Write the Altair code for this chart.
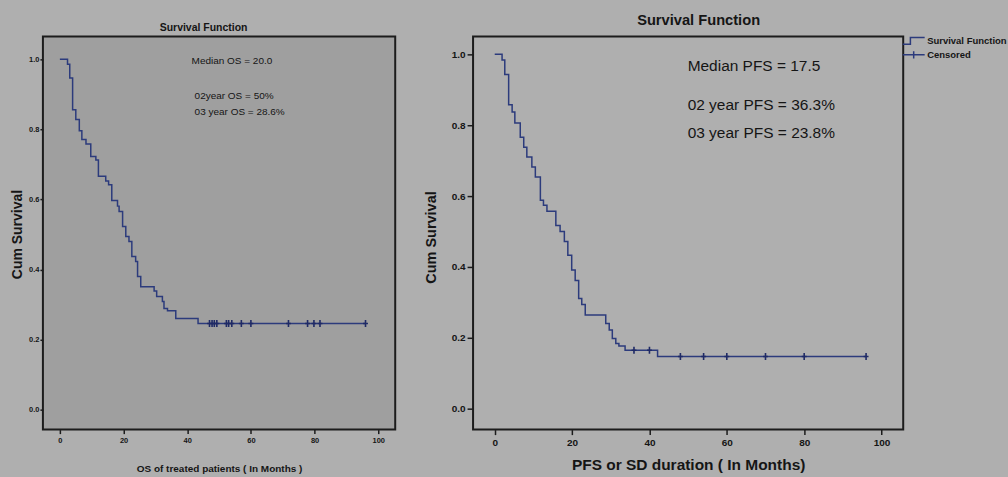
import altair as alt
import numpy as np
import pandas as pd

# ---------------- data ----------------
os_time = [0, 2.4, 3.1, 4.0, 5.0, 6.1, 6.9, 8.2, 9.7, 11.3, 12.1, 14.4, 15.3, 16.3, 18.1, 18.6,
           19.7, 20.7, 21.7, 22.6, 23.8, 24.4, 25.4, 29.6, 30.4, 32.2, 32.7, 33.8, 36.4, 43.4, 96.0]
os_surv = [1.0, 0.986, 0.947, 0.856, 0.828, 0.796, 0.771, 0.758, 0.723, 0.713, 0.666, 0.653, 0.642,
           0.597, 0.581, 0.566, 0.523, 0.494, 0.48, 0.437, 0.423, 0.38, 0.351, 0.339, 0.323, 0.309,
           0.289, 0.282, 0.26, 0.246, 0.246]
os_censored = [47.0, 47.8, 48.5, 49.3, 52.3, 53.0, 54.0, 57.0, 60.0, 71.8, 77.8, 79.8, 81.7, 96.0]

pfs_time = [0, 1.9, 2.6, 3.6, 4.5, 5.2, 6.6, 7.5, 8.3, 9.6, 10.5, 11.8, 12.6, 13.5, 15.8, 16.9,
            18.0, 18.9, 19.9, 20.8, 21.7, 22.5, 23.4, 28.7, 29.6, 30.4, 31.3, 32.1, 33.7, 42.1, 96.0]
pfs_surv = [1.0, 0.984, 0.943, 0.858, 0.837, 0.806, 0.766, 0.738, 0.710, 0.682, 0.654, 0.588, 0.574,
            0.557, 0.517, 0.50, 0.472, 0.433, 0.391, 0.362, 0.311, 0.294, 0.264, 0.240, 0.222, 0.198,
            0.184, 0.177, 0.165, 0.147, 0.147]
pfs_censored = [36.0, 40.0, 48.0, 54.0, 60.0, 70.0, 80.0, 96.0]

os_notes = ["Median OS = 20.0", "02year OS = 50%", "03 year OS = 28.6%"]
pfs_notes = ["Median PFS = 17.5", "02 year PFS = 36.3%", "03 year PFS = 23.8%"]

x_ticks = [0, 20, 40, 60, 80, 100]
y_ticks = [0.0, 0.2, 0.4, 0.6, 0.8, 1.0]
legend_labels = ["Survival Function", "Censored"]
panel_title = "Survival Function"
y_title = "Cum Survival"
os_x_title = "OS of treated patients ( In Months )"
pfs_x_title = "PFS or SD duration ( In Months)"

# ---------------- styles ----------------
BG = "#afafaf"
PLOT_BG = "#9f9f9f"
NAVY = "#2c3b7c"
NAVY_DARK = "#1f2a66"
TXT = "#151515"
FRAME = "#1c1c1c"
SANS = "Liberation Sans"

CENSOR_PATH = "M-0.7,0H0.7M0,-1V1"
LEG_STEP = "M-2,0.6H-0.6V-0.6H2"
LEG_PLUS = "M-2,0H2M0,-0.64V0.64"


def step_at(times, surv, t):
    idx = int(np.searchsorted(np.array(times), t, side="right")) - 1
    return surv[idx]


def panel(times, surv, censored, notes, st, legend=False):
    curve = pd.DataFrame({"t": times, "s": surv})
    cens = pd.DataFrame({"t": censored, "s": [step_at(times, surv, c) for c in censored]})

    x = alt.X("t:Q",
              scale=alt.Scale(domain=st["xdom"], nice=False, zero=False),
              axis=alt.Axis(values=x_ticks, format="d", title=st["xtitle"], grid=False, domain=False,
                            labelFont=SANS, labelFontSize=st["lsize"], labelFontWeight="bold",
                            labelColor=TXT, tickColor=FRAME, tickWidth=1.5, tickSize=st["xtick"],
                            labelPadding=st["xlpad"],
                            titleFont=SANS, titleFontSize=st["xtsize"], titleFontWeight="bold",
                            titleColor=TXT, titleBaseline="alphabetic", titleY=st["xtitleY"]))
    y = alt.Y("s:Q",
              scale=alt.Scale(domain=st["ydom"], nice=False, zero=False),
              axis=alt.Axis(values=y_ticks, format=".1f", title=y_title, grid=False, domain=False,
                            labelFont=SANS, labelFontSize=st["lsize"], labelFontWeight="bold",
                            labelColor=TXT, tickColor=FRAME, tickWidth=1.5, tickSize=st["ytick"],
                            labelPadding=st["ylpad"],
                            titleFont=SANS, titleFontSize=st["ytsize"], titleFontWeight="bold",
                            titleColor=TXT, titleAngle=270, titleBaseline="middle", titleAlign="center",
                            titleX=st["ytitleX"], titleY=st["ytitleY"]))

    line = alt.Chart(curve).mark_line(interpolate="step-after", color=NAVY, strokeWidth=1.5).encode(x=x, y=y)
    pts = alt.Chart(cens).mark_point(shape=CENSOR_PATH, size=49, filled=False, color=NAVY_DARK,
                                     strokeWidth=1.6, opacity=1).encode(x="t:Q", y="s:Q")
    # panel heading as a text mark above the frame
    tx, ty = st["titlepos"]
    heading = alt.Chart(pd.DataFrame({"label": [panel_title]})).mark_text(
        align="center", baseline="middle", font=SANS, fontSize=st["ttsize"], fontWeight="bold", color=TXT
    ).encode(x=alt.value(tx), y=alt.value(ty), text="label:N")
    layers = [line, pts, heading]
    for note, (px, py) in zip(notes, st["notepos"]):
        layers.append(
            alt.Chart(pd.DataFrame({"note": [note]})).mark_text(
                align="left", baseline="middle", font=SANS, fontSize=st["nsize"], color=TXT
            ).encode(x=alt.value(px), y=alt.value(py), text="note:N")
        )
    if legend:
        leg = pd.DataFrame({"series": legend_labels})
        layers.append(
            alt.Chart(leg).mark_point(filled=False, size=121, color=NAVY, strokeWidth=1.5, opacity=1)
            .transform_filter("false")
            .encode(shape=alt.Shape("series:N",
                                    scale=alt.Scale(domain=legend_labels, range=[LEG_STEP, LEG_PLUS]),
                                    legend=alt.Legend(title=None, orient="none", legendX=866, legendY=-2,
                                                      labelFont=SANS, labelFontSize=9.5,
                                                      labelFontWeight="bold", labelColor=TXT,
                                                      labelLimit=90, labelOffset=7, symbolSize=121,
                                                      symbolStrokeWidth=1.5, symbolStrokeColor=NAVY,
                                                      rowPadding=0, padding=0)))
        )
    return alt.layer(*layers).properties(width=st["w"], height=st["h"])


left_style = dict(
    xdom=[-5.33, 105.33], ydom=[-0.057, 1.0655], w=353, h=394,
    xtitle=os_x_title, lsize=7.5, xtick=4, xlpad=3, ytick=3, ylpad=1,
    xtsize=10, xtitleY=42, ytsize=14, ytitleX=-25, ytitleY=198,
    nsize=10, notepos=[(149, 25), (152, 60), (152, 76)],
    ttsize=10.5, titlepos=(161, -8),
)
right_style = dict(
    xdom=[-5.6, 105.6], ydom=[-0.0592, 1.0507], w=431, h=394,
    xtitle=pfs_x_title, lsize=10, xtick=5, xlpad=3, ytick=6, ylpad=2,
    xtsize=15.5, xtitleY=39.5, ytsize=14.5, ytitleX=-42, ytitleY=201,
    nsize=15.5, notepos=[(215, 30), (215, 69), (215, 97)],
    ttsize=14.7, titlepos=(226, -15),
)

left = panel(os_time, os_surv, os_censored, os_notes, left_style)
right = panel(pfs_time, pfs_surv, pfs_censored, pfs_notes, right_style, legend=True)

chart = (
    alt.hconcat(left, right, spacing=26)
    .properties(background=BG, padding={"left": 10, "top": 12, "right": 1, "bottom": 2})
    .configure_view(fill=PLOT_BG, stroke=FRAME, strokeWidth=2)
)

chart.save("out.html", embed_options={"renderer": "svg", "actions": False})
